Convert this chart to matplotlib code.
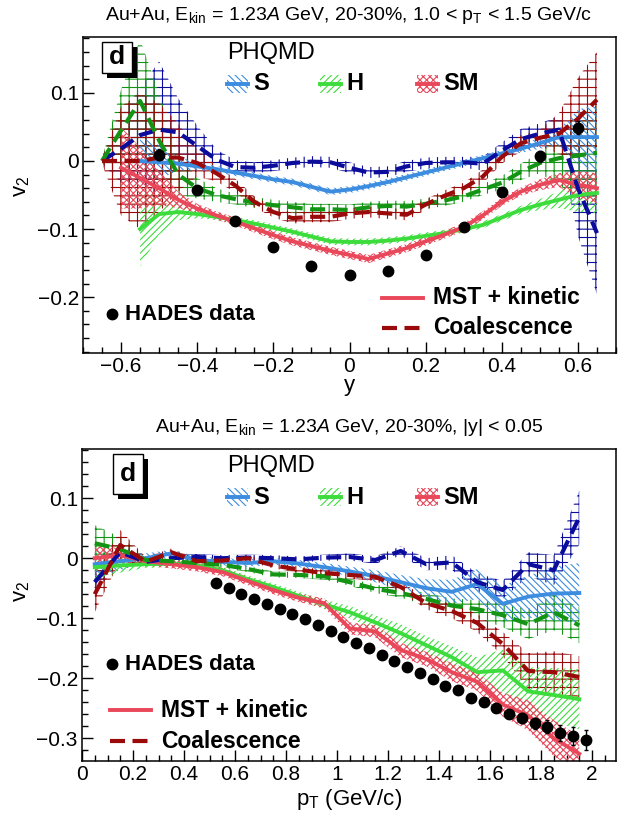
import numpy as np
import matplotlib
matplotlib.use('Agg')
import matplotlib.pyplot as plt
from matplotlib.patches import Rectangle
from matplotlib.lines import Line2D
from matplotlib.ticker import MultipleLocator, FuncFormatter

plt.rcParams['font.family'] = ['Liberation Sans', 'DejaVu Sans']
plt.rcParams['mathtext.fontset'] = 'custom'
plt.rcParams['mathtext.rm'] = 'Liberation Sans'
plt.rcParams['mathtext.it'] = 'Liberation Sans:italic'
plt.rcParams['mathtext.bf'] = 'Liberation Sans:bold'
plt.rcParams['hatch.linewidth'] = 0.8

# ---- top panel: v2 vs rapidity, 1.0 < pT < 1.5 GeV/c ----
rap = [-0.65, -0.6, -0.55, -0.5, -0.45, -0.4, -0.35, -0.3, -0.25, -0.2, -0.15, -0.1, -0.05,
       0.0, 0.05, 0.1, 0.15, 0.2, 0.25, 0.3, 0.35, 0.4, 0.45, 0.5, 0.55, 0.6, 0.65]
s_coal_y = [0.0, 0.018, 0.038, 0.046, 0.042, 0.022, 0.002, -0.009, -0.010, -0.007, -0.003, -0.001, -0.002,
            -0.010, -0.017, -0.016, -0.008, -0.003, -0.002, -0.002, -0.004, 0.015, 0.032, 0.040, 0.046, -0.040, -0.106]
s_coal_ye = [0.004, 0.05, 0.07, 0.10, 0.05, 0.03, 0.015, 0.01, 0.008, 0.008, 0.008, 0.008, 0.008,
             0.008, 0.008, 0.008, 0.008, 0.008, 0.008, 0.008, 0.01, 0.012, 0.015, 0.015, 0.02, 0.07, 0.09]
h_coal_y = [0.0, 0.045, 0.088, 0.03, -0.02, -0.04, -0.05, -0.056, -0.061, -0.065, -0.068, -0.071, -0.071,
            -0.072, -0.068, -0.066, -0.067, -0.063, -0.058, -0.052, -0.042, -0.032, -0.016, -0.003, 0.004, 0.008, 0.012]
h_coal_ye = [0.004, 0.06, 0.09, 0.07, 0.03, 0.015, 0.01, 0.008, 0.008, 0.008, 0.008, 0.008, 0.008,
             0.008, 0.008, 0.008, 0.008, 0.008, 0.008, 0.008, 0.008, 0.01, 0.012, 0.015, 0.04, 0.06, 0.07]
sm_coal_y = [0.0, 0.0, 0.0, 0.005, 0.005, -0.003, -0.018, -0.036, -0.06, -0.075, -0.084, -0.082, -0.082,
             -0.077, -0.075, -0.077, -0.079, -0.064, -0.051, -0.04, -0.023, 0.006, 0.026, 0.034, 0.04, 0.062, 0.09]
sm_coal_ye = [0.004, 0.08, 0.10, 0.08, 0.05, 0.02, 0.012, 0.01, 0.008, 0.008, 0.008, 0.008, 0.008,
              0.008, 0.008, 0.008, 0.008, 0.008, 0.008, 0.008, 0.01, 0.01, 0.012, 0.012, 0.03, 0.06, 0.07]

rap_s = rap[2:]
s_mst_y = [0.0, -0.002, -0.004, -0.008, -0.012, -0.017, -0.022, -0.027, -0.031, -0.038, -0.045,
           -0.042, -0.037, -0.031, -0.024, -0.017, -0.010, -0.003, 0.004, 0.011, 0.018, 0.026, 0.035, 0.035, 0.035]
s_mst_ye = [0.035, 0.025, 0.01, 0.006, 0.005, 0.005, 0.005, 0.005, 0.005, 0.005, 0.005,
            0.005, 0.005, 0.005, 0.005, 0.005, 0.005, 0.005, 0.005, 0.005, 0.006, 0.008, 0.012, 0.04, 0.05]
h_mst_y = [-0.10, -0.078, -0.075, -0.078, -0.082, -0.087, -0.092, -0.098, -0.104, -0.111, -0.118,
           -0.119, -0.119, -0.117, -0.114, -0.110, -0.106, -0.100, -0.094, -0.083, -0.072, -0.064, -0.057, -0.050, -0.047]
h_mst_ye = [0.055, 0.03, 0.012, 0.006, 0.005, 0.005, 0.005, 0.005, 0.005, 0.005, 0.005,
            0.005, 0.005, 0.005, 0.005, 0.005, 0.005, 0.005, 0.005, 0.005, 0.006, 0.008, 0.012, 0.025, 0.03]
rap_sm = rap[1:]
sm_mst_y = [-0.01, -0.025, -0.04, -0.057, -0.07, -0.08, -0.089, -0.099, -0.109, -0.118, -0.125, -0.132,
            -0.138, -0.144, -0.136, -0.128, -0.118, -0.108, -0.097, -0.080, -0.060, -0.045, -0.035, -0.028, -0.035, -0.04]
sm_mst_ye = [0.06, 0.045, 0.025, 0.012, 0.007, 0.006, 0.006, 0.006, 0.006, 0.006, 0.006, 0.006,
             0.006, 0.006, 0.006, 0.006, 0.006, 0.006, 0.006, 0.006, 0.006, 0.006, 0.008, 0.01, 0.02, 0.022]

hades_rap = [-0.5, -0.4, -0.3, -0.2, -0.1, 0.0, 0.1, 0.2, 0.3, 0.4, 0.5, 0.6]
hades_rap_v2 = [0.009, -0.043, -0.088, -0.127, -0.154, -0.167, -0.162, -0.138, -0.097, -0.046, 0.007, 0.049]
hades_rap_err = [0.008, 0.006, 0.005, 0.004, 0.004, 0.004, 0.004, 0.004, 0.005, 0.006, 0.008, 0.01]

# ---- bottom panel: v2 vs pT, |y| < 0.05 ----
pt = [0.05, 0.15, 0.25, 0.35, 0.45, 0.55, 0.65, 0.75, 0.85, 0.95,
      1.05, 1.15, 1.25, 1.35, 1.45, 1.55, 1.65, 1.75, 1.85, 1.95]
pt_s_coal = [-0.04, 0.01, -0.006, 0.0, 0.002, 0.0, 0.001, 0.0, -0.002, 0.001,
             0.002, -0.003, 0.012, -0.01, -0.007, -0.04, -0.053, -0.01, -0.02, 0.068]
pt_s_coal_e = [0.02, 0.015, 0.006, 0.005, 0.005, 0.005, 0.005, 0.005, 0.005, 0.005,
               0.006, 0.006, 0.008, 0.01, 0.012, 0.015, 0.015, 0.02, 0.025, 0.045]
pt_h_coal = [0.025, 0.015, -0.003, -0.005, -0.008, -0.011, -0.018, -0.027, -0.028, -0.030,
             -0.040, -0.051, -0.058, -0.068, -0.079, -0.085, -0.095, -0.110, -0.090, -0.112]
pt_h_coal_e = [0.03, 0.02, 0.006, 0.005, 0.005, 0.005, 0.005, 0.005, 0.005, 0.006,
               0.006, 0.007, 0.008, 0.01, 0.012, 0.015, 0.02, 0.025, 0.03, 0.03]
pt_sm_coal = [-0.06, 0.022, -0.006, 0.010, -0.005, -0.004, 0.0, -0.012, -0.019, -0.025,
              -0.028, -0.031, -0.048, -0.075, -0.088, -0.108, -0.143, -0.188, -0.190, -0.198]
pt_sm_coal_e = [0.03, 0.025, 0.008, 0.006, 0.005, 0.005, 0.005, 0.005, 0.005, 0.006,
                0.006, 0.007, 0.008, 0.01, 0.012, 0.015, 0.02, 0.03, 0.035, 0.035]
pt_s_mst = [-0.01, -0.005, 0.0, 0.008, -0.003, -0.006, -0.008, -0.005, -0.009, -0.015,
            -0.022, -0.030, -0.040, -0.050, -0.056, -0.043, -0.076, -0.064, -0.059, -0.058]
pt_s_mst_e = [0.025, 0.015, 0.008, 0.006, 0.006, 0.006, 0.006, 0.006, 0.006, 0.007,
              0.008, 0.01, 0.012, 0.015, 0.02, 0.025, 0.03, 0.035, 0.045, 0.05]
pt_h_mst = [-0.015, -0.012, -0.010, -0.009, -0.012, -0.020, -0.035, -0.048, -0.063, -0.077,
            -0.090, -0.107, -0.125, -0.145, -0.165, -0.190, -0.187, -0.222, -0.228, -0.235]
pt_h_mst_e = [0.02, 0.012, 0.006, 0.006, 0.006, 0.006, 0.006, 0.006, 0.007, 0.008,
              0.01, 0.012, 0.015, 0.015, 0.018, 0.025, 0.035, 0.04, 0.045, 0.05]
pt_sm_mst = [0.0, 0.005, -0.005, -0.010, -0.015, -0.023, -0.038, -0.053, -0.066, -0.075,
             -0.117, -0.122, -0.153, -0.168, -0.190, -0.206, -0.244, -0.262, -0.300, -0.326]
pt_sm_mst_e = [0.02, 0.012, 0.007, 0.007, 0.007, 0.007, 0.007, 0.007, 0.007, 0.008,
               0.01, 0.01, 0.012, 0.012, 0.015, 0.015, 0.02, 0.025, 0.03, 0.03]

hades_pt = [0.525, 0.575, 0.625, 0.675, 0.725, 0.775, 0.825, 0.875, 0.925, 0.975,
            1.025, 1.075, 1.125, 1.175, 1.225, 1.275, 1.325, 1.375, 1.425, 1.475,
            1.525, 1.575, 1.625, 1.675, 1.725, 1.775, 1.825, 1.875, 1.925, 1.975]
hades_pt_v2 = [-0.042, -0.0495, -0.060, -0.068, -0.076, -0.085, -0.093, -0.102, -0.112, -0.121,
               -0.131, -0.142, -0.150, -0.161, -0.172, -0.181, -0.191, -0.202, -0.213, -0.220,
               -0.233, -0.240, -0.250, -0.260, -0.266, -0.275, -0.281, -0.291, -0.297, -0.303]
hades_pt_err = [0.003, 0.003, 0.003, 0.003, 0.003, 0.003, 0.003, 0.003, 0.003, 0.003,
                0.003, 0.003, 0.003, 0.003, 0.004, 0.004, 0.004, 0.004, 0.004, 0.004,
                0.006, 0.006, 0.006, 0.006, 0.008, 0.009, 0.011, 0.013, 0.015, 0.017]

c_s, c_h, c_sm = '#3c8ce0', '#3ddc3d', '#e8485a'
c_s_coal, c_h_coal, c_sm_coal = '#0b0b9c', '#149414', '#9b0a0a'
hatch_s, hatch_h, hatch_sm = '\\\\\\\\\\', '/////', 'xxxxx'
dash = (0, (3.6, 1.8))

W, H = 634, 821
fig = plt.figure(figsize=(W / 100, H / 100), dpi=100)


def fx(px):
    return px / W


def fy(py):
    return 1 - py / H


ax1 = fig.add_axes([fx(83), fy(353), (616 - 83) / W, (353 - 37) / H])
ax2 = fig.add_axes([fx(82), fy(761), (616 - 82) / W, (761 - 449) / H])


def band(ax, x, y, e, color, hatch, z=2):
    y = np.array(y)
    e = np.array(e)
    ax.fill_between(x, y - e, y + e, facecolor='none', edgecolor=color,
                    hatch=hatch, linewidth=0, zorder=z)


def draw_panel(ax, d):
    # coalescence error grids, then MST bands
    for x, y, e, col in d['coal']:
        band(ax, x, y, e, col, '++', z=2)
    for x, y, e, col, h in d['mst']:
        band(ax, x, y, e, col, h, z=2)
    for x, y, e, col, h in d['mst']:
        ax.plot(x, y, color=col, lw=2.8, zorder=3)
    for x, y, e, col in d['coal']:
        ax.plot(x, y, color=col, lw=3, ls=dash, zorder=4)
    hx, hy, he = d['hades']
    ax.errorbar(hx, hy, yerr=he, fmt='o', color='black', ms=7.5, capsize=1.5,
                elinewidth=1, zorder=5)


draw_panel(ax1, {
    'coal': [(rap, s_coal_y, s_coal_ye, c_s_coal),
             (rap, h_coal_y, h_coal_ye, c_h_coal),
             (rap, sm_coal_y, sm_coal_ye, c_sm_coal)],
    'mst': [(rap_s, s_mst_y, s_mst_ye, c_s, hatch_s),
            (rap_s, h_mst_y, h_mst_ye, c_h, hatch_h),
            (rap_sm, sm_mst_y, sm_mst_ye, c_sm, hatch_sm)],
    'hades': (hades_rap, hades_rap_v2, hades_rap_err)})

draw_panel(ax2, {
    'coal': [(pt, pt_s_coal, pt_s_coal_e, c_s_coal),
             (pt, pt_h_coal, pt_h_coal_e, c_h_coal),
             (pt, pt_sm_coal, pt_sm_coal_e, c_sm_coal)],
    'mst': [(pt, pt_s_mst, pt_s_mst_e, c_s, hatch_s),
            (pt, pt_h_mst, pt_h_mst_e, c_h, hatch_h),
            (pt, pt_sm_mst, pt_sm_mst_e, c_sm, hatch_sm)],
    'hades': (hades_pt, hades_pt_v2, hades_pt_err)})


def fmt(v, _):
    if abs(v) < 1e-9:
        return '0'
    return ('%g' % round(v, 3)).replace('-', '\u2212')


ax1.set_xlim(-0.7, 0.7)
ax1.set_ylim(-0.282, 0.182)
ax2.set_xlim(0, 2.094)
ax2.set_ylim(-0.338, 0.182)
for ax in (ax1, ax2):
    ax.xaxis.set_major_locator(MultipleLocator(0.2))
    ax.xaxis.set_minor_locator(MultipleLocator(0.05))
    ax.yaxis.set_major_locator(MultipleLocator(0.1))
    ax.yaxis.set_minor_locator(MultipleLocator(0.02))
    ax.xaxis.set_major_formatter(FuncFormatter(fmt))
    ax.yaxis.set_major_formatter(FuncFormatter(fmt))
    ax.tick_params(which='both', direction='in', top=False, right=False, width=1, labelsize=15)
    ax.tick_params(which='major', length=8)
    ax.tick_params(which='minor', length=4)
    ax.tick_params(axis='x', pad=3)
    ax.tick_params(axis='y', pad=3)
    for sp in ax.spines.values():
        sp.set_linewidth(1.1)

# titles and axis titles
fig.text(fx(349), fy(15), r'Au+Au, E$_{\rm kin}$ = 1.23$\mathit{A}$ GeV, 20-30%, 1.0 < p$_{\rm T}$ < 1.5 GeV/c',
         ha='center', va='center', fontsize=14)
fig.text(fx(349), fy(427), r'Au+Au, E$_{\rm kin}$ = 1.23$\mathit{A}$ GeV, 20-30%, |y| < 0.05',
         ha='center', va='center', fontsize=14)
fig.text(fx(349), fy(386), 'y', ha='center', va='center', fontsize=16)
fig.text(fx(349), fy(799), r'p$_{\rm T}$ (GeV/c)', ha='center', va='center', fontsize=16)
fig.text(fx(22), fy(186), r'v$_{2}$', ha='center', va='center', fontsize=16, rotation=90)
fig.text(fx(22), fy(591), r'v$_{2}$', ha='center', va='center', fontsize=16, rotation=90)


def frect(x0, y0, x1, y1, **kw):
    r = Rectangle((fx(x0), fy(y1)), (x1 - x0) / W, (y1 - y0) / H, transform=fig.transFigure, **kw)
    fig.add_artist(r)


def fline(x0, x1, y, **kw):
    fig.add_artist(Line2D([fx(x0), fx(x1)], [fy(y), fy(y)], transform=fig.transFigure, **kw))


def letter_box(x0, y0, x1, y1):
    frect(x0 + 5, y0 + 5, x1 + 5, y1 + 5, facecolor='black', edgecolor='none', zorder=10)
    frect(x0, y0, x1, y1, facecolor='white', edgecolor='black', lw=1, zorder=11)
    fig.text(fx((x0 + x1) / 2), fy((y0 + y1) / 2), 'd', ha='center', va='center',
             fontsize=19, fontweight='bold', zorder=12)


def model_legend(top):
    fig.text(fx(227), fy(top + 9), 'PHQMD', ha='left', va='center', fontsize=17)
    items = [(227, c_s, hatch_s, 'S'), (320, c_h, hatch_h, 'H'), (417, c_sm, hatch_sm, 'SM')]
    yc = top + 40
    for x0, col, h, lab in items:
        frect(x0, yc - 9, x0 + 21, yc + 9, facecolor='none', edgecolor=col, hatch=h, lw=0, zorder=10)
        fline(x0, x0 + 21, yc, color=col, lw=2.8, zorder=11)
        fig.text(fx(x0 + 26), fy(yc), lab, ha='left', va='center', fontsize=17,
                 fontweight='bold')


def line_legend(x_mark, y_mark, x_line, y_mst, y_coal):
    fig.add_artist(Line2D([fx(x_mark)], [fy(y_mark)], transform=fig.transFigure, marker='o',
                          color='black', ms=7.5, ls='none'))
    fig.text(fx(x_mark + 13), fy(y_mark), 'HADES data', ha='left', va='center',
             fontsize=16, fontweight='bold')
    fline(x_line, x_line + 41, y_mst, color=c_sm, lw=2.8)
    fig.text(fx(x_line + 51), fy(y_mst), 'MST + kinetic', ha='left', va='center',
             fontsize=16.5, fontweight='bold')
    fline(x_line, x_line + 41, y_coal, color=c_sm_coal, lw=3, ls=dash)
    fig.text(fx(x_line + 51), fy(y_coal), 'Coalescence', ha='left', va='center',
             fontsize=16.5, fontweight='bold')


letter_box(102, 42, 132, 73)
letter_box(113, 454, 143, 494)
model_legend(44)
model_legend(457)
line_legend(112, 314, 382, 298, 328)
line_legend(112, 664, 110, 710, 741)

fig.savefig('out.png', dpi=100)
